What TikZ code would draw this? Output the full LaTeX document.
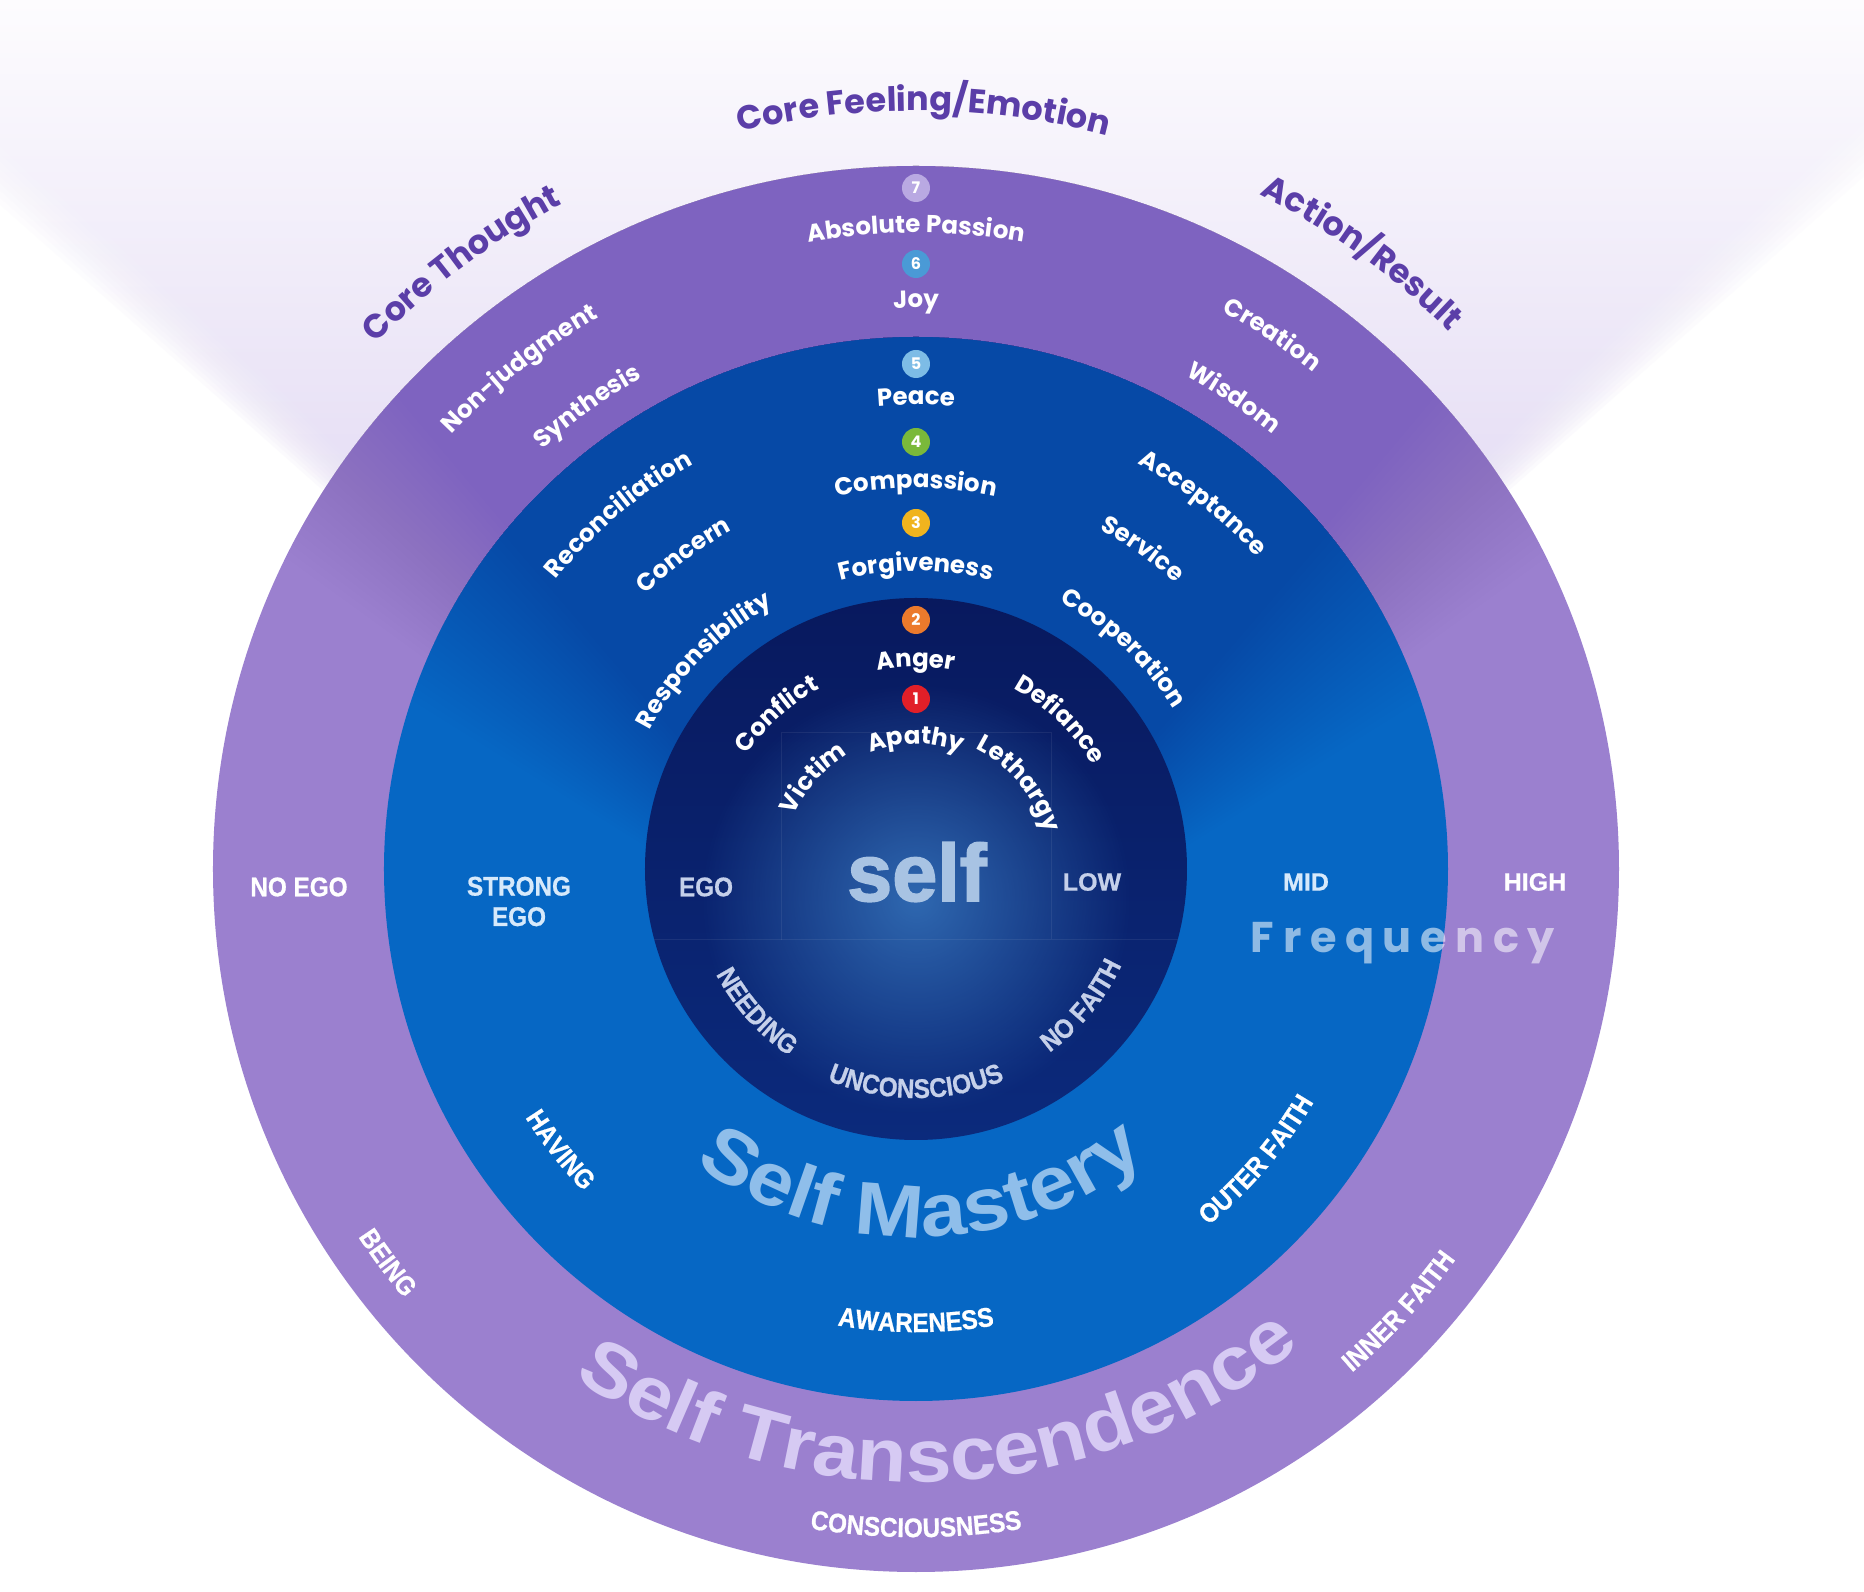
\documentclass[tikz,border=0pt]{standalone}
\usepackage{fontspec}
\usetikzlibrary{decorations.text,fadings}
\newfontfamily\pop{Poppins}
\newfontfamily\capf{Liberation Sans}[FakeStretch=0.9,FakeBold=0.7]
\newfontfamily\capn{Liberation Sans}[FakeBold=0.7]
\newfontfamily\widef{Liberation Sans}[FakeStretch=1.1]
\newfontfamily\heavy{Liberation Sans}[FakeBold=2]

\definecolor{purA}{HTML}{9B80CF}
\definecolor{purDk}{HTML}{6C45C0}
\definecolor{bluA}{HTML}{0667C4}
\definecolor{bluDk}{HTML}{10309A}
\definecolor{navyTop}{HTML}{08195E}
\definecolor{navyBot}{HTML}{0B2A7C}
\definecolor{glowc}{HTML}{3370B8}
\definecolor{labpur}{HTML}{5B3EA8}
\definecolor{capgray}{HTML}{C5D0EA}
\definecolor{capblue}{HTML}{D6E9FB}
\definecolor{selfc}{HTML}{A8C3E3}
\definecolor{smc}{HTML}{8FBEEA}
\definecolor{stc}{HTML}{D6CAF3}
\definecolor{coneBot}{HTML}{CDBEEB}
\definecolor{coneMid}{HTML}{E3DAF3}
\definecolor{coneTop}{HTML}{FDFCFE}
\definecolor{bseven}{HTML}{B9A9E2}
\definecolor{bsix}{HTML}{4A9AD6}
\definecolor{bfive}{HTML}{7DBCE6}
\definecolor{bfour}{HTML}{7AB93A}
\definecolor{bthree}{HTML}{F0B41E}
\definecolor{btwo}{HTML}{EC7A2C}
\definecolor{bone}{HTML}{E11F28}

\tikzfading[name=glowfade, inner color=transparent!0, outer color=transparent!100]

\newcommand\fPop{\pop\bfseries\fontsize{24.5pt}{26pt}\selectfont\color{white}}
\newcommand\fHead{\pop\bfseries\fontsize{33.5pt}{36pt}\selectfont\color{labpur}}
\newcommand\fCapG{\capf\bfseries\fontsize{27pt}{28pt}\selectfont\color{capgray}}
\newcommand\fCapW{\capf\bfseries\fontsize{27pt}{28pt}\selectfont\color{white}}
\newcommand\fSM{\widef\bfseries\fontsize{75pt}{77pt}\selectfont\color{smc}}
\newcommand\fST{\widef\bfseries\fontsize{75pt}{77pt}\selectfont\color{stc}}

\newcommand\arctop[4]{\path[decorate,decoration={text along path,text align=center,text={|#3|#4}}] ({#1+70}:#2) arc[start angle={#1+70},end angle={#1-70},radius=#2pt];}
\newcommand\arcbot[4]{\path[decorate,decoration={text along path,text align=center,text={|#3|#4}}] ({#1-70}:#2) arc[start angle={#1-70},end angle={#1+70},radius=#2pt];}

\tikzset{
  badge/.style={circle,minimum size=28pt,inner sep=0pt,text=white,font=\pop\bfseries\fontsize{16pt}{16pt}\selectfont},
  capw/.style={font=\capf\bfseries\fontsize{27pt}{30.4pt}\selectfont,text=white,inner sep=0pt},
  capg/.style={capw,text=capgray},
  capl/.style={font=\capn\bfseries\fontsize{25pt}{26pt}\selectfont,text=white,inner sep=0pt},
  conesh/.style={top color=coneTop, middle color=coneMid, bottom color=coneBot},
}

\begin{document}
\begin{tikzpicture}[x=1pt,y=1pt]
\useasboundingbox (-916,-723) rectangle (948,869);
\fill[white] (-916,-723) rectangle (948,869);

% light cone behind the wheel
\begin{scope}
  \clip (-916,-723) rectangle (948,869);
  \foreach \a in {48.5,48.25,...,45}{
    \shade[conesh, opacity=0.15] (0,-146) -- ({-1015*tan(\a)},869) -- ({1015*tan(\a)},869) -- cycle;
  }
  \shade[conesh] (0,-146) -- ({-1015*tan(44.8)},869) -- ({1015*tan(44.8)},869) -- cycle;
\end{scope}

% outer purple ring
\fill[purA] (0,0) circle[radius=703pt];
\begin{scope}
  \clip (0,0) circle[radius=703pt];
  \foreach \a in {54,53.5,...,40}{
    \fill[purDk, opacity=0.014] (0,-146) -- ({-1015*tan(\a)},869) -- ({1015*tan(\a)},869) -- cycle;
  }
\end{scope}

% blue ring
\fill[bluA] (0,0) circle[radius=532pt];
\begin{scope}
  \clip (0,0) circle[radius=532pt];
  \foreach \a in {58,57.4,...,40}{
    \fill[bluDk, opacity=0.017] (0,-146) -- ({-1015*tan(\a)},869) -- ({1015*tan(\a)},869) -- cycle;
  }
\end{scope}

% inner navy disc with glow
\shade[top color=navyTop, bottom color=navyBot] (0,0) circle[radius=271pt];
\begin{scope}
  \clip (0,0) circle[radius=271pt];
  \fill[glowc, path fading=glowfade, fill opacity=0.9] (0,-30) circle[radius=215pt];
  \draw[white, opacity=0.07, line width=1pt] (-134,-71) rectangle (136,136);
  \draw[white, opacity=0.07, line width=1pt] (-271,-71) -- (-134,-71) (136,-71) -- (271,-71);
\end{scope}

% outer headings
\arctop{126.9}{753}{\fHead}{Core Thought}
\arctop{89.4}{758}{\fHead}{Core Feeling/Emotion}
\arctop{54.1}{757}{\fHead}{Action/Result}

% rows of feelings
\arctop{128.4}{636}{\fPop}{Non-judgment}
\arctop{90}{636}{\fPop}{Absolute Passion}
\arctop{56.3}{636}{\fPop}{Creation}

\arctop{125.4}{562}{\fPop}{Synthesis}
\arctop{90}{561}{\fPop}{Joy}
\arctop{56}{562}{\fPop}{Wisdom}

\arctop{130}{462}{\fPop}{Reconciliation}
\arctop{90}{464}{\fPop}{Peace}
\arctop{51.9}{462}{\fPop}{Acceptance}

\arctop{126.5}{385}{\fPop}{Concern}
\arctop{90}{381}{\fPop}{Compassion}
\arctop{54.7}{386}{\fPop}{Service}

\arctop{135.5}{300}{\fPop}{Responsibility}
\arctop{90}{298}{\fPop}{Forgiveness}
\arctop{46.8}{303}{\fPop}{Cooperation}

\arctop{132}{204}{\fPop}{Conflict}
\arctop{90}{202}{\fPop}{Anger}
\arctop{46}{205}{\fPop}{Defiance}

\arctop{138.5}{133}{\fPop}{Victim}
\arctop{90}{125}{\fPop}{Apathy}
\arctop{39.5}{134}{\fPop}{Lethargy}

% badges
\node[badge, fill=bseven] (b7) at (0,681) {7};
\node[badge, fill=bsix]   (b6) at (0,605) {6};
\node[badge, fill=bfive]  (b5) at (0,505) {5};
\node[badge, fill=bfour]  (b4) at (0,427) {4};
\node[badge, fill=bthree] (b3) at (0,346) {3};
\node[badge, fill=btwo]   (b2) at (0,249) {2};
\node[badge, fill=bone]   (b1) at (0,170) {1};

% horizontal labels
\node[capw] (noego) at (-617,-18) {NO EGO};
\node[capw, text=capblue, align=center] (strongego) at (-397,-32.5) {STRONG\\EGO};
\node[capg] (ego) at (-210,-18) {EGO};
\node[capl, text=capgray] (low) at (176,-13) {LOW};
\node[capl, text=capblue] (mid) at (390,-13) {MID};
\node[capl] (high) at (619,-13) {HIGH};

\node[anchor=base, inner sep=0pt, text=white, text opacity=0.55,
      font=\pop\bfseries\fontsize{43pt}{45pt}\selectfont\addfontfeature{LetterSpace=20}] (freq) at (487,-84) {Frequency};

\node[anchor=base, inner sep=0pt, text=selfc, font=\heavy\bfseries\fontsize{81pt}{84pt}\selectfont] (self) at (1,-32) {self};

% bottom arcs
\arcbot{221.8}{226}{\fCapG}{NEEDING}
\arcbot{270}{229}{\fCapG}{UNCONSCIOUS}
\arcbot{320.5}{227}{\fCapG}{NO FAITH}

\arcbot{271}{368}{\fSM}{Self Mastery}

\arcbot{218.3}{463}{\fCapW}{HAVING}
\arcbot{270}{463}{\fCapW}{AWARENESS}
\arcbot{319.5}{461}{\fCapW}{OUTER FAITH}

\arcbot{272.5}{613}{\fST}{Self Transcendence}

\arcbot{216.7}{668}{\fCapW}{BEING}
\arcbot{270}{668}{\fCapW}{CONSCIOUSNESS}
\arcbot{317.5}{666}{\fCapW}{INNER FAITH}
\end{tikzpicture}
\end{document}
